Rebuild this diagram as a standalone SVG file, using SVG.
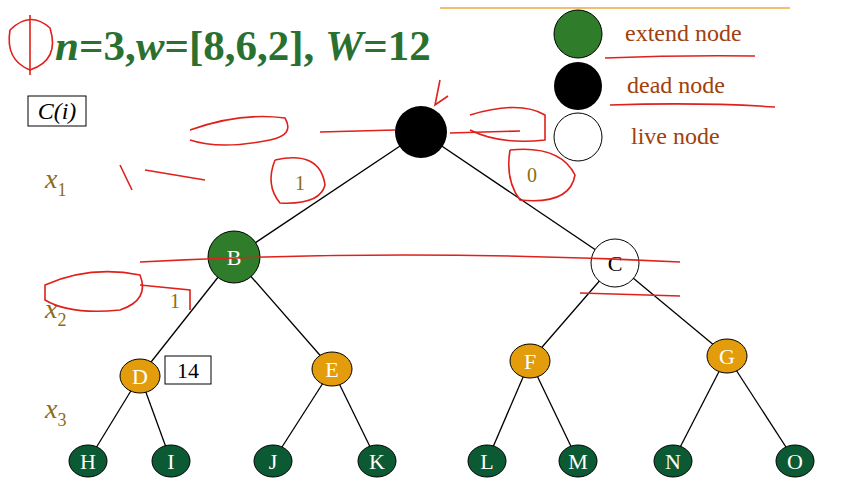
<svg xmlns="http://www.w3.org/2000/svg" width="843" height="502" viewBox="0 0 843 502">
<style>
.e{stroke:#000;stroke-width:1.3;fill:none}
.lbl{font-family:"Liberation Serif",serif;font-size:22px;text-anchor:middle}
.x{font-family:"Liberation Serif",serif;font-size:28px;fill:#8b6d14;font-style:italic}
.xs{font-size:18px;font-style:normal}
.leg{font-family:"Liberation Serif",serif;font-size:24px;fill:#a0410d}
.ed{font-family:"Liberation Serif",serif;font-size:20px;fill:#8b6d14;text-anchor:middle}
.leaf{fill:#0b5a33;stroke:#000;stroke-width:1}
.mid{fill:#e39c0b;stroke:#000;stroke-width:1}
.red{stroke:#e0201a;stroke-width:1.6;fill:none}
</style>
<rect width="843" height="502" fill="#fff"/>
<line x1="440" y1="8" x2="790" y2="8" stroke="#f0c070" stroke-width="2"/>
<text x="55" y="60" font-family="Liberation Serif,serif" font-size="43" font-weight="bold" fill="#2a7030"><tspan font-style="italic">n</tspan>=3,<tspan font-style="italic">w</tspan>=[8,6,2], <tspan font-style="italic">W</tspan>=12</text>
<g id="legend">
<circle cx="578" cy="34" r="24" fill="#2f7d2a" stroke="#000"/>
<text class="leg" x="625" y="41">extend node</text>
<circle cx="578" cy="86" r="24" fill="#000"/>
<text class="leg" x="627" y="93">dead node</text>
<circle cx="578" cy="137" r="24" fill="#fff" stroke="#000"/>
<text class="leg" x="631" y="144">live node</text>
</g>
<rect x="28" y="96" width="58" height="30" fill="#fff" stroke="#000"/>
<text x="57" y="119" class="lbl" style="font-style:italic;font-size:24px">C(<tspan>i</tspan>)</text>
<text class="x" x="45" y="188">x<tspan class="xs" dy="8">1</tspan></text>
<text class="x" x="45" y="318">x<tspan class="xs" dy="8">2</tspan></text>
<text class="x" x="45" y="418">x<tspan class="xs" dy="8">3</tspan></text>
<g id="connectors">
<line class="e" x1="421" y1="132" x2="234" y2="257"/>
<line class="e" x1="421" y1="132" x2="615" y2="263"/>
<line class="e" x1="234" y1="257" x2="140" y2="376"/>
<line class="e" x1="234" y1="257" x2="332" y2="369"/>
<line class="e" x1="615" y1="263" x2="530" y2="361"/>
<line class="e" x1="615" y1="263" x2="727" y2="356"/>
<line class="e" x1="140" y1="376" x2="88" y2="461"/>
<line class="e" x1="140" y1="376" x2="171" y2="461"/>
<line class="e" x1="332" y1="369" x2="273" y2="461"/>
<line class="e" x1="332" y1="369" x2="377" y2="461"/>
<line class="e" x1="530" y1="361" x2="487" y2="461"/>
<line class="e" x1="530" y1="361" x2="578" y2="461"/>
<line class="e" x1="727" y1="356" x2="673" y2="461"/>
<line class="e" x1="727" y1="356" x2="795" y2="461"/>
<text class="ed" x="300" y="190">1</text>
<text class="ed" x="532" y="182">0</text>
<text class="ed" x="175" y="308">1</text>
</g>
<g id="root"><circle cx="421" cy="132" r="26" fill="#000"/></g>
<g id="B"><circle cx="234" cy="257" r="26" fill="#2f7d2a" stroke="#000"/><text class="lbl" x="234" y="265" fill="#fff">B</text></g>
<g id="C"><circle cx="615" cy="263" r="24" fill="#fff" stroke="#000"/><text class="lbl" x="615" y="271">C</text></g>
<g id="D"><ellipse class="mid" cx="140" cy="376" rx="20" ry="17"/><text class="lbl" x="140" y="384" fill="#fff">D</text></g>
<rect x="165" y="356" width="46" height="28" fill="#fff" stroke="#000"/>
<text class="lbl" x="188" y="378">14</text>
<g id="E"><ellipse class="mid" cx="332" cy="369" rx="20" ry="17"/><text class="lbl" x="332" y="377" fill="#fff">E</text></g>
<g id="F"><ellipse class="mid" cx="530" cy="361" rx="20" ry="17"/><text class="lbl" x="530" y="369" fill="#fff">F</text></g>
<g id="G"><ellipse class="mid" cx="727" cy="356" rx="20" ry="17"/><text class="lbl" x="727" y="364" fill="#fff">G</text></g>
<g id="H"><ellipse class="leaf" cx="88" cy="461" rx="19" ry="16"/><text class="lbl" x="88" y="469" fill="#fff">H</text></g>
<g id="I"><ellipse class="leaf" cx="171" cy="461" rx="19" ry="16"/><text class="lbl" x="171" y="469" fill="#fff">I</text></g>
<g id="J"><ellipse class="leaf" cx="273" cy="461" rx="19" ry="16"/><text class="lbl" x="273" y="469" fill="#fff">J</text></g>
<g id="K"><ellipse class="leaf" cx="377" cy="461" rx="19" ry="16"/><text class="lbl" x="377" y="469" fill="#fff">K</text></g>
<g id="L"><ellipse class="leaf" cx="487" cy="461" rx="19" ry="16"/><text class="lbl" x="487" y="469" fill="#fff">L</text></g>
<g id="M"><ellipse class="leaf" cx="578" cy="461" rx="19" ry="16"/><text class="lbl" x="578" y="469" fill="#fff">M</text></g>
<g id="N"><ellipse class="leaf" cx="673" cy="461" rx="19" ry="16"/><text class="lbl" x="673" y="469" fill="#fff">N</text></g>
<g id="O"><ellipse class="leaf" cx="795" cy="461" rx="19" ry="16"/><text class="lbl" x="795" y="469" fill="#fff">O</text></g>
<g id="annotations">
<path class="red" d="M10 30 Q30 10 50 28 Q60 60 30 70 Q5 60 10 30"/>
<path class="red" d="M30 15 L30 75"/>
<path class="red" d="M605 58 Q680 55 755 56"/>
<path class="red" d="M610 105 Q700 102 775 107"/>
<path class="red" d="M320 132 L395 130 M450 133 L520 131"/>
<path class="red" d="M190 130 Q240 112 285 118 Q295 135 270 140 Q220 150 190 140"/>
<path class="red" d="M470 115 Q520 100 545 115 L545 140 Q500 145 470 130"/>
<path class="red" d="M120 165 L132 190 M145 170 L205 180"/>
<path class="red" d="M275 160 Q320 150 325 185 Q320 205 280 203 Q265 185 275 160"/>
<path class="red" d="M510 150 Q560 145 575 175 Q570 205 520 200 Q505 180 510 150"/>
<path class="red" d="M140 262 Q400 248 680 262"/>
<path class="red" d="M580 293 L680 296"/>
<path class="red" d="M45 285 Q90 265 140 275 Q150 300 120 310 Q70 315 45 300 Z"/>
<path class="red" d="M140 285 L190 290 L190 310"/>
<path class="red" d="M440 80 L435 105 L448 96"/>
</g>
</svg>
